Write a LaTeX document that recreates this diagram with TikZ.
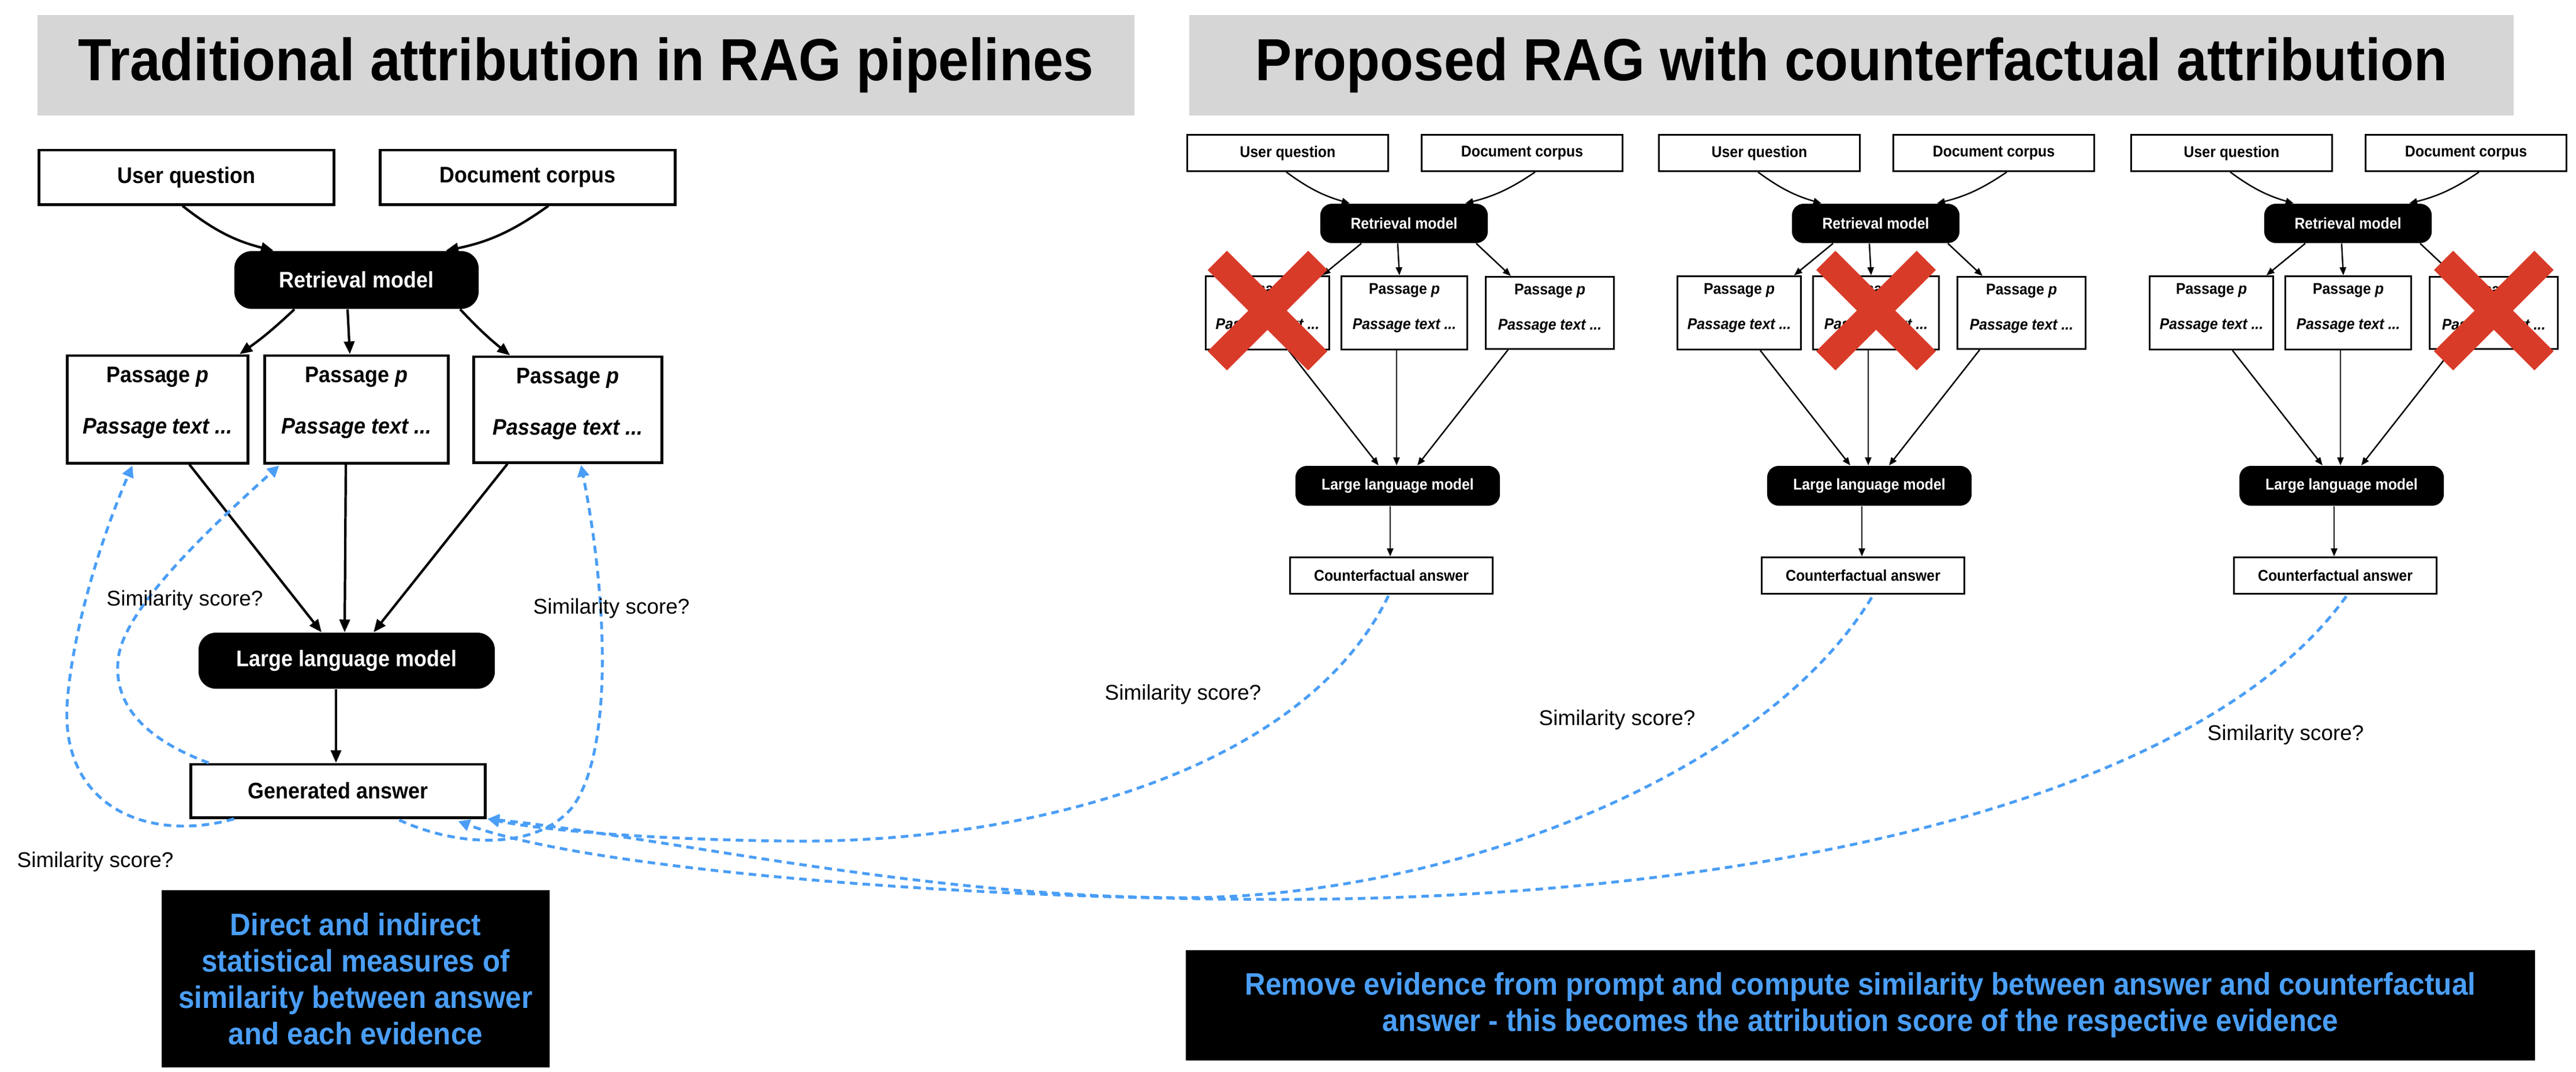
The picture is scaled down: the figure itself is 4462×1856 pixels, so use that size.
\documentclass[tikz,border=0pt]{standalone}
\usepackage{fontspec}
\setmainfont{Liberation Sans}
\newfontfamily\medf{Liberation Sans Bold}[FakeStretch=0.92, ItalicFont={Liberation Sans Bold Italic}]
\usetikzlibrary{arrows.meta,calc}
\definecolor{bandgray}{RGB}{214,214,214}
\definecolor{xred}{RGB}{217,59,41}
\definecolor{simblue}{RGB}{74,158,246}
\newcommand\myfs[2]{\fontsize{#1}{#2}\selectfont}
\begin{document}
\begin{tikzpicture}[x=0.01cm,y=-0.01cm,
  band/.style={fill=bandgray, inner sep=0pt, font=\medf\myfs{29.3}{35}},
  bigbox/.style={draw, line width=1.4pt, fill=white, inner sep=0pt, font=\medf\myfs{11.1}{13}},
  bigdark/.style={fill=black, rounded corners=0.3cm, text=white, inner sep=0pt, font=\medf\myfs{11.1}{13}},
  bigtxt/.style={anchor=base, inner sep=0pt, font=\medf\myfs{11.1}{13}},
  bigarr/.style={line width=1.2pt, -{Triangle[length=0.22cm,width=0.18cm]}},
  smbox/.style={draw, line width=0.85pt, fill=white, inner sep=0pt, font=\medf\myfs{7.68}{9}},
  smdark/.style={fill=black, rounded corners=0.2cm, text=white, inner sep=0pt, font=\medf\myfs{7.68}{9}},
  smtxt/.style={anchor=base, inner sep=0pt, font=\medf\myfs{7.68}{9}},
  smarr/.style={line width=0.7pt, -{Triangle[length=0.14cm,width=0.11cm]}},
  simarr/.style={simblue, line width=1.4pt, dash pattern=on 0.13cm off 0.09cm, -{Triangle[length=0.2cm,width=0.2cm]}},
  simlbl/.style={anchor=base west, inner sep=0pt, font=\myfs{10.5}{12}},
  note/.style={fill=black, text=simblue, inner sep=0pt, align=center, font=\medf\myfs{15.3}{17.9}},
  xmark/.style={xred, line width=0.47cm}
]
\useasboundingbox (0,0) rectangle (4462,1856);
\fill[white] (0,0) rectangle (4462,1856);

% ---------- titles ----------
\node[band, minimum width=18.98cm, minimum height=1.74cm] (band1) at (1015,113) {Traditional attribution in RAG pipelines};
\node[band, minimum width=22.92cm, minimum height=1.74cm] (band2) at (3207,113) {Proposed RAG with counterfactual attribution};

% ---------- left diagram ----------
\node[bigbox, minimum width=5.10cm, minimum height=0.94cm] (uq) at (323,307) {User question};
\node[bigbox, minimum width=5.10cm, minimum height=0.94cm] (dc) at (914,307) {Document corpus};
\node[bigdark, minimum width=4.23cm, minimum height=1.00cm] (rm) at (617.5,485) {Retrieval model};
\node[bigbox, minimum width=3.12cm, minimum height=1.86cm] (p1) at (273,709) {};
\node[bigbox, minimum width=3.17cm, minimum height=1.86cm] (p2) at (617.5,709) {};
\node[bigbox, minimum width=3.25cm, minimum height=1.83cm] (p3) at (983.5,709.5) {};
\foreach \p in {p1,p2,p3}{
  \node[bigtxt] (\p a) at ($(\p.north)+(0,49)$) {Passage \textit{p}};
  \node[bigtxt] (\p b) at ($(\p.north)+(0,138)$) {\itshape Passage text ...};
}
\node[bigdark, minimum width=5.13cm, minimum height=0.97cm] (llm) at (600.5,1144.5) {Large language model};
\node[bigbox, minimum width=5.09cm, minimum height=0.92cm] (gen) at (585.5,1370) {Generated answer};

\draw[bigarr] ($(uq.south)+(-7,0)$) to[bend right=12] ($(rm.north)+(-143.5,0)$);
\draw[bigarr] ($(dc.south)+(36,0)$) to[bend left=12] ($(rm.north)+(154.5,0)$);
\draw[bigarr] ($(rm.south)+(-107.5,0)$) to[bend left=4] ($(p1.north)+(142,0)$);
\draw[bigarr] ($(rm.south)+(-15.5,0)$) -- ($(p2.north)+(-11.5,0)$);
\draw[bigarr] ($(rm.south)+(179.5,0)$) to[bend right=4] ($(p3.north west)+(65,0)$);
\draw[bigarr] ($(p1.south)+(55,0)$) -- ($(llm.north)+(-43.5,0)$);
\draw[bigarr] ($(p2.south)+(-18.5,0)$) -- ($(llm.north)+(-3.5,0)$);
\draw[bigarr] ($(p3.south)+(-104.5,0)$) -- ($(llm.north)+(46.5,0)$);
\draw[bigarr] ($(llm.south)+(-18.5,0)$) -- ($(gen.north)+(-3.5,0)$);

\node[note, minimum width=6.72cm, minimum height=3.07cm] (note1) at (616,1695.5)
  {Direct and indirect\\statistical measures of\\similarity between answer\\and each evidence};

% ---------- right panels ----------
\foreach \i/\dx/\xp in {1/0/pa,2/817/pb,3/1635/pc}{
  \node[smbox, minimum width=3.48cm, minimum height=0.63cm] (uq\i) at (2230.5+\dx,265) {User question};
  \node[smbox, minimum width=3.48cm, minimum height=0.63cm] (dc\i) at (2636.5+\dx,265) {Document corpus};
  \node[smdark, minimum width=2.90cm, minimum height=0.68cm] (rm\i) at (2432+\dx,387) {Retrieval model};
  \node[smbox, minimum width=2.14cm, minimum height=1.27cm] (pa\i) at (2195.5+\dx,542) {};
  \node[smbox, minimum width=2.18cm, minimum height=1.27cm] (pb\i) at (2432.5+\dx,542) {};
  \node[smbox, minimum width=2.22cm, minimum height=1.25cm] (pc\i) at (2684.5+\dx,542) {};
  \foreach \p in {pa,pb,pc}{
    \node[smtxt] (\p\i a) at ($(\p\i.north)+(0,33)$) {Passage \textit{p}};
    \node[smtxt] (\p\i b) at ($(\p\i.north)+(0,94)$) {\itshape Passage text ...};
  }
  \node[smdark, minimum width=3.54cm, minimum height=0.69cm] (llm\i) at (2421+\dx,841.5) {Large language model};
  \node[smbox, minimum width=3.51cm, minimum height=0.63cm] (ca\i) at (2410+\dx,997) {Counterfactual answer};

  \draw[smarr] ($(uq\i.south)+(-2.5,0)$) to[bend right=10] ($(rm\i.north)+(-94,0)$);
  \draw[smarr] ($(dc\i.south)+(22.5,0)$) to[bend left=10] ($(rm\i.north)+(106,0)$);
  \draw[smarr] ($(rm\i.south)+(-74,0)$) -- ($(pa\i.north east)+(-13.5,0)$);
  \draw[smarr] ($(rm\i.south)+(-11,0)$) -- ($(pb\i.north)+(-8.5,0)$);
  \draw[smarr] ($(rm\i.south)+(125,0)$) -- ($(pc\i.north west)+(45,0)$);
  \draw[smarr] ($(pa\i.south)+(36.5,0)$) -- ($(llm\i.north)+(-33,0)$);
  \draw[smarr] ($(pb\i.south)+(-13.5,0)$) -- ($(llm\i.north)+(-2,0)$);
  \draw[smarr] ($(pc\i.south)+(-72.5,0)$) -- ($(llm\i.north)+(34,0)$);
  \draw[smarr] ($(llm\i.south)+(-13,0)$) -- ($(ca\i.north)+(-2,0)$);

  \draw[xmark] ($(\xp\i.center)+(-87,-91)$) -- ($(\xp\i.center)+(87,83)$);
  \draw[xmark] ($(\xp\i.center)+(87,-91)$) -- ($(\xp\i.center)+(-87,83)$);
}

\node[note, minimum width=23.35cm, minimum height=1.91cm] (note2) at (3222.5,1741.5)
  {Remove evidence from prompt and compute similarity between answer and counterfactual\\answer - this becomes the attribution score of the respective evidence};

% ---------- similarity connectors ----------
\draw[simarr] ($(gen.south west)+(77,0)$) .. controls (260,1460) and (100,1400) .. (117,1210)
  .. controls (128,1080) and (180,920) .. ($(p1.south west)+(115,2)$);
\draw[simarr] ($(gen.north west)+(33,0)$) .. controls (250,1280) and (195,1220) .. (205,1140)
  .. controls (215,1050) and (380,900) .. ($(p2.south west)+(27,2)$);
\draw[simarr] ($(gen.south west)+(363,2)$) .. controls (800,1470) and (930,1470) .. (990,1400)
  .. controls (1060,1310) and (1055,1050) .. ($(p3.south west)+(188,2)$);

\draw[simarr] ($(ca1.south)+(-5,2)$) .. controls (2250,1350) and (1750,1460) .. (1374,1457)
  .. controls (1150,1455) and (950,1440) .. ($(gen.south east)+(2,0)$);
\draw[simarr] ($(ca2.south)+(15,5)$) .. controls (3050,1350) and (2500,1555) .. (2050,1555)
  .. controls (1600,1555) and (1150,1450) .. ($(gen.south east)+(2,0)$);
\draw[simarr] ($(ca3.south)+(19,3)$) .. controls (3800,1400) and (3000,1560) .. (2200,1558)
  .. controls (1600,1556) and (1000,1500) .. ($(gen.south east)+(-49,4)$);

\node[simlbl] (s1) at (184,1049) {Similarity score?};
\node[simlbl] (s2) at (923,1063) {Similarity score?};
\node[simlbl] (s3) at (29,1502) {Similarity score?};
\node[simlbl] (s4) at (1913,1212) {Similarity score?};
\node[simlbl] (s5) at (2665,1256) {Similarity score?};
\node[simlbl] (s6) at (3823,1282) {Similarity score?};
\end{tikzpicture}
\end{document}
